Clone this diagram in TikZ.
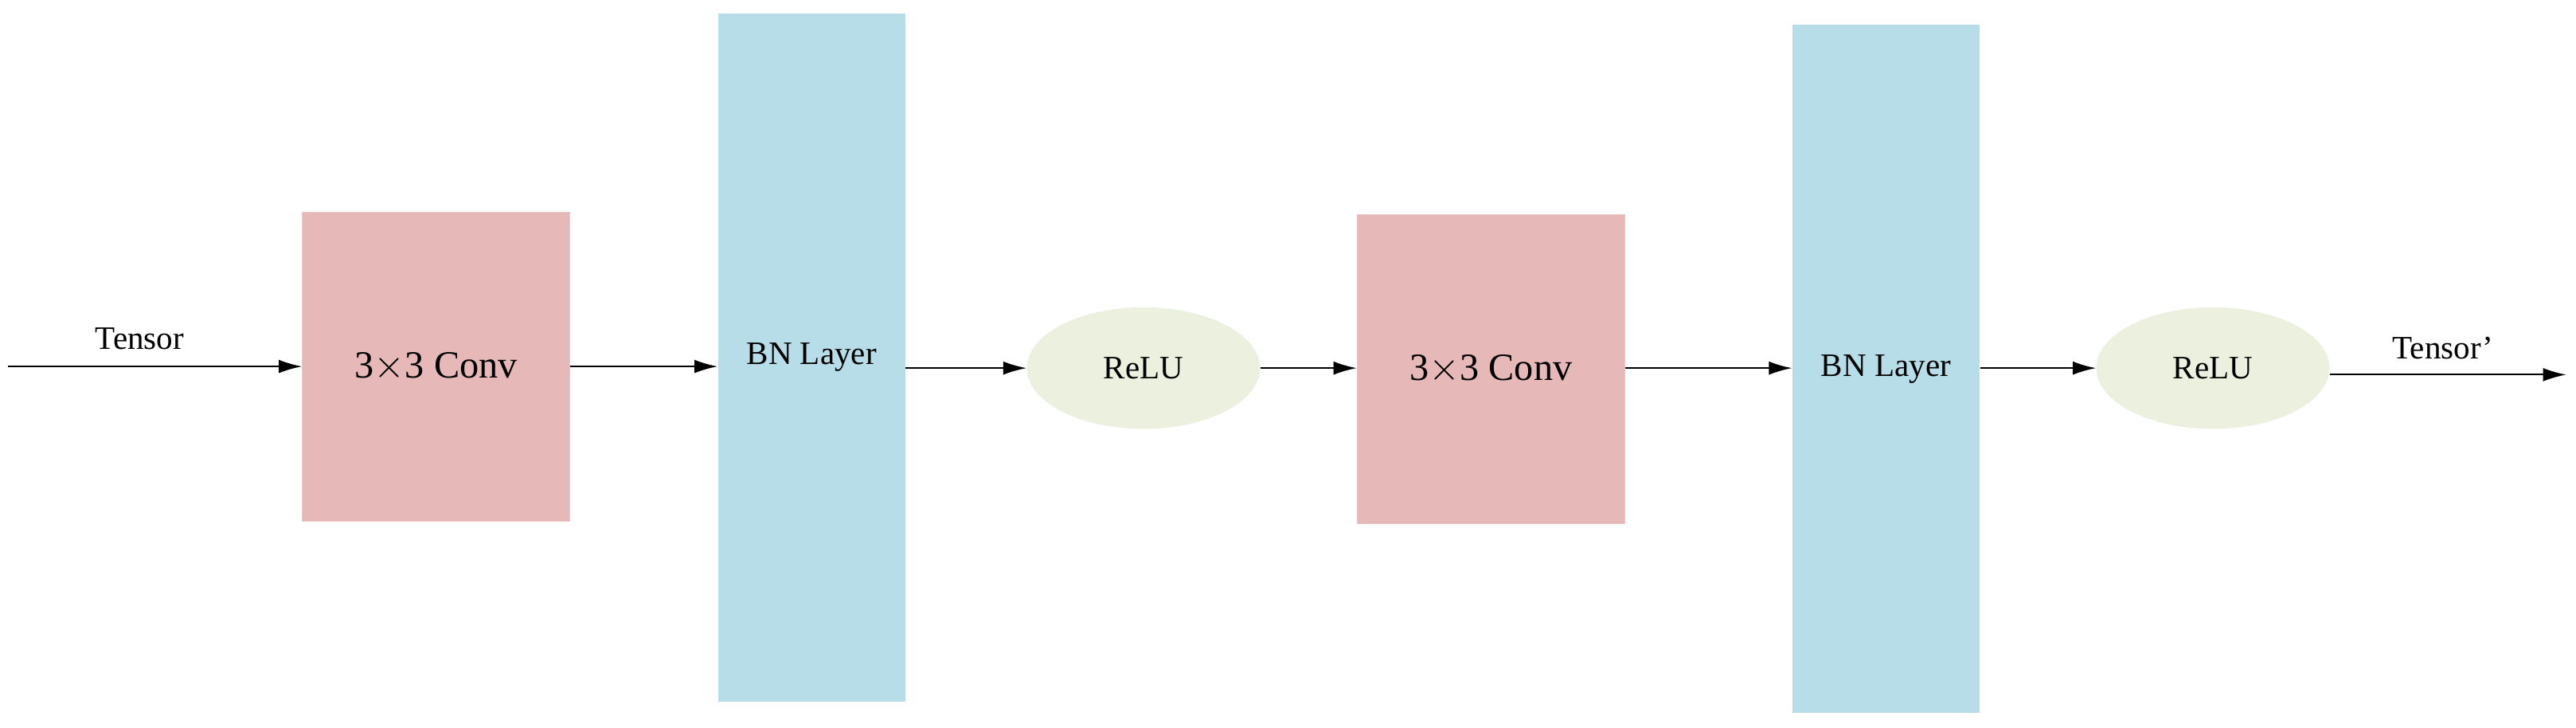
\documentclass[tikz,border=0pt]{standalone}
\usepackage{fontspec}
\setmainfont{Liberation Serif}
\usetikzlibrary{arrows.meta, positioning, shapes.geometric}
\definecolor{ConvRed}{RGB}{230,184,183}
\definecolor{BNBlue}{RGB}{183,222,232}
\definecolor{ReluGreen}{RGB}{235,241,222}
\begin{document}
\begin{tikzpicture}[x=0.03cm, y=-0.03cm]
    % --- Styles ---
    \tikzstyle{conv}=[rectangle, fill=ConvRed, draw=ConvRed!80!white, minimum width=163*0.03cm, minimum height=188*0.03cm, font=\fontsize{20}{24}\selectfont]
    \tikzstyle{bn}=[rectangle, fill=BNBlue, minimum width=114*0.03cm, minimum height=419*0.03cm, font=\fontsize{17}{20}\selectfont]
    \tikzstyle{relu}=[ellipse, fill=ReluGreen, minimum width=142*0.03cm, minimum height=74*0.03cm, font=\fontsize{17}{20}\selectfont]
    \tikzstyle{flow}=[-{Latex[length=12pt, width=7pt]}, thick]
    \tikzstyle{tag}=[font=\fontsize{17}{20}\selectfont]

    \useasboundingbox (0,0) rectangle (1568,443);

    % --- Blocks ---
    \node[conv] (conv1) at (265.5,223) {3$\times$3 Conv};
    \node[bn]   (bn1)   at (494,217.5) {BN Layer};
    \node[relu] (relu1) at (696,224) {ReLU};
    \node[conv] (conv2) at (907.5,224.5) {3$\times$3 Conv};
    \node[bn]   (bn2)   at (1148,224.5) {BN Layer};
    \node[relu] (relu2) at (1347,224) {ReLU};

    % --- Input / output ---
    \coordinate (in) at (5,223);
    \coordinate (out) at (1562,228);
    \node[tag] (tin) at (85,206) {Tensor};
    \node[tag] (tout) at (1487,212) {Tensor'};

    % --- Connectors ---
    \draw[flow] (in) -- (conv1.west);
    \draw[flow] (conv1.east) -- (bn1.west |- conv1.east);
    \draw[flow] (bn1.east |- relu1.west) -- (relu1.west);
    \draw[flow] (relu1.east) -- (conv2.west |- relu1.east);
    \draw[flow] (conv2.east |- relu1.east) -- (bn2.west |- relu1.east);
    \draw[flow] (bn2.east |- relu2.west) -- (relu2.west);
    \draw[flow] (relu2.east |- out) -- (out);
\end{tikzpicture}
\end{document}
